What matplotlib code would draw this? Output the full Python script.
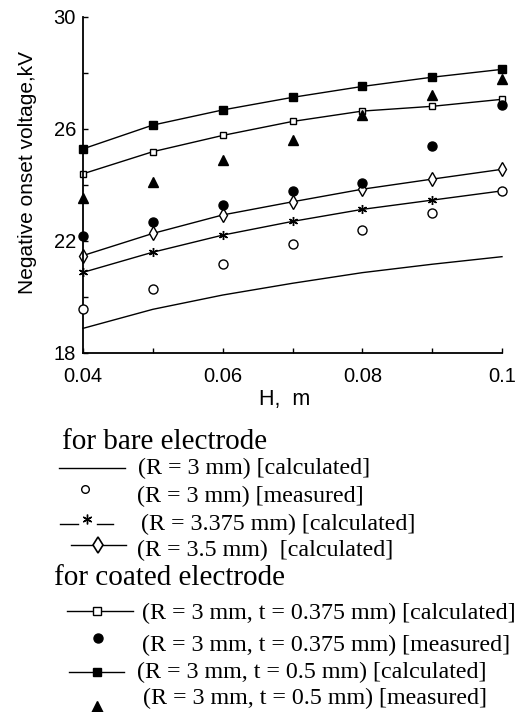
import matplotlib
matplotlib.use("Agg")
import matplotlib.pyplot as plt
from matplotlib.lines import Line2D
from matplotlib.ticker import MultipleLocator, FixedLocator

H = [0.04, 0.05, 0.06, 0.07, 0.08, 0.09, 0.10]
bare_R3_calc = [18.88, 19.56, 20.07, 20.49, 20.87, 21.17, 21.44]
bare_R3_meas = [19.57, 20.29, 21.18, 21.88, 22.38, 22.99, 23.79]
bare_R3375_calc = [20.88, 21.60, 22.21, 22.70, 23.13, 23.46, 23.79]
bare_R35_calc = [21.48, 22.27, 22.93, 23.40, 23.85, 24.21, 24.56]
coat_t0375_calc = [24.40, 25.19, 25.77, 26.27, 26.64, 26.81, 27.06]
coat_t0375_meas = [22.19, 22.69, 23.29, 23.79, 24.08, 25.39, 26.87]
coat_t05_calc = [25.29, 26.14, 26.68, 27.13, 27.52, 27.85, 28.13]
coat_t05_meas = [23.52, 24.12, 24.89, 25.61, 26.50, 27.21, 27.79]

xticks = [0.04, 0.06, 0.08, 0.1]
xticklabels = ["0.04", "0.06", "0.08", "0.1"]
yticks = [18, 22, 26, 30]

header1 = "for bare electrode"
header2 = "for coated electrode"
labels = [
    "(R = 3 mm) [calculated]",
    "(R = 3 mm) [measured]",
    "(R = 3.375 mm) [calculated]",
    "(R = 3.5 mm)  [calculated]",
    "(R = 3 mm, t = 0.375 mm) [calculated]",
    "(R = 3 mm, t = 0.375 mm) [measured]",
    "(R = 3 mm, t = 0.5 mm) [calculated]",
    "(R = 3 mm, t = 0.5 mm) [measured]",
]

W, Hh = 532, 712
fig = plt.figure(figsize=(W / 100, Hh / 100), dpi=100)
ax = fig.add_axes([83 / W, 1 - 353 / Hh, (502 - 83) / W, (353 - 17) / Hh])

sans = "Liberation Sans"
serif = "Liberation Serif"
lw = 1.0
k = "black"

ax.plot(H, bare_R3_calc, color=k, lw=lw, clip_on=False)
ax.plot(H, bare_R3_meas, ls="none", marker="o", ms=6.5, mfc="white", mec=k, mew=1.0, clip_on=False, zorder=3)
ax.plot(H, bare_R3375_calc, color=k, lw=lw, marker=(6, 2, 0), ms=6.5, mew=1.0, clip_on=False)
ax.plot(H, bare_R35_calc, color=k, lw=lw, marker="d", ms=7.5, mfc="white", mec=k, mew=1.0, clip_on=False)
ax.plot(H, coat_t0375_calc, color=k, lw=lw, marker="s", ms=5, mfc="white", mec=k, mew=1.0, clip_on=False)
ax.plot(H, coat_t0375_meas, ls="none", marker="o", ms=6.5, color=k, clip_on=False)
ax.plot(H, coat_t05_calc, color=k, lw=lw, marker="s", ms=5.5, clip_on=False)
ax.plot(H, coat_t05_meas, ls="none", marker="^", ms=7, color=k, clip_on=False)

ax.set_xlim(0.04, 0.1)
ax.set_ylim(18, 30)
ax.spines["top"].set_visible(False)
ax.spines["right"].set_visible(False)
for s in ("left", "bottom"):
    ax.spines[s].set_linewidth(1.3)
ax.xaxis.set_major_locator(FixedLocator(xticks))
ax.set_xticklabels(xticklabels)
ax.xaxis.set_minor_locator(MultipleLocator(0.01))
ax.yaxis.set_major_locator(FixedLocator(yticks))
ax.yaxis.set_minor_locator(MultipleLocator(2))
ax.tick_params(which="both", direction="in", width=1.0, length=3.5, labelsize=14.5)
ax.tick_params(axis="x", which="both", pad=10)
ax.tick_params(axis="y", which="both", pad=5)
for t in ax.get_xticklabels() + ax.get_yticklabels():
    t.set_fontfamily(sans)
ax.set_xlabel("H,  m", fontsize=15.5, fontfamily=sans)
ax.set_ylabel("Negative onset voltage,kV", fontsize=15, fontfamily=sans)
ax.xaxis.set_label_coords((285 - 83) / 419, -(389 - 353) / 336)
ax.yaxis.set_label_coords((37 - 83) / 419, (353 - 173) / 336)


def fx(px):
    return px / W


def fy(py):
    return 1 - py / Hh


def seg(x0, x1, y, **kw):
    fig.add_artist(Line2D([fx(x0), fx(x1)], [fy(y), fy(y)], color=k, lw=1.0, **kw))


def mark(x, y, **kw):
    fig.add_artist(Line2D([fx(x)], [fy(y)], ls="none", **kw))


fsz = 17.3
hsz = 21
fig.text(fx(62), fy(442), header1, fontsize=hsz, fontfamily=serif, va="center", ha="left")
fig.text(fx(54), fy(578), header2, fontsize=hsz, fontfamily=serif, va="center", ha="left")

# entry 1
seg(59, 125, 468)
fig.text(fx(138), fy(468), labels[0], fontsize=fsz, fontfamily=serif, va="center")
# entry 2
mark(85, 489, marker="o", ms=5.5, mfc="white", mec=k, mew=1.0)
fig.text(fx(137), fy(496), labels[1], fontsize=fsz, fontfamily=serif, va="center")
# entry 3
seg(60, 78, 524)
seg(97, 113, 524)
mark(87, 519, marker=(6, 2, 0), ms=7, color=k, mew=1.0)
fig.text(fx(141), fy(524), labels[2], fontsize=fsz, fontfamily=serif, va="center")
# entry 4
seg(71, 126, 545)
mark(98, 545, marker="d", ms=8.5, mfc="white", mec=k, mew=1.2)
fig.text(fx(137), fy(550), labels[3], fontsize=fsz, fontfamily=serif, va="center")
# entry 5
seg(67, 133, 611)
mark(97, 611, marker="s", ms=5.5, mfc="white", mec=k, mew=1.0)
fig.text(fx(142), fy(613), labels[4], fontsize=fsz, fontfamily=serif, va="center")
# entry 6
mark(98, 638, marker="o", ms=6.5, color=k)
fig.text(fx(142), fy(645), labels[5], fontsize=fsz, fontfamily=serif, va="center")
# entry 7
seg(69, 124, 672)
mark(97, 672, marker="s", ms=6, color=k)
fig.text(fx(137), fy(672), labels[6], fontsize=fsz, fontfamily=serif, va="center")
# entry 8
mark(97, 707, marker="^", ms=9, color=k)
fig.text(fx(143), fy(698), labels[7], fontsize=fsz, fontfamily=serif, va="center")

fig.savefig("out.png", dpi=100)
